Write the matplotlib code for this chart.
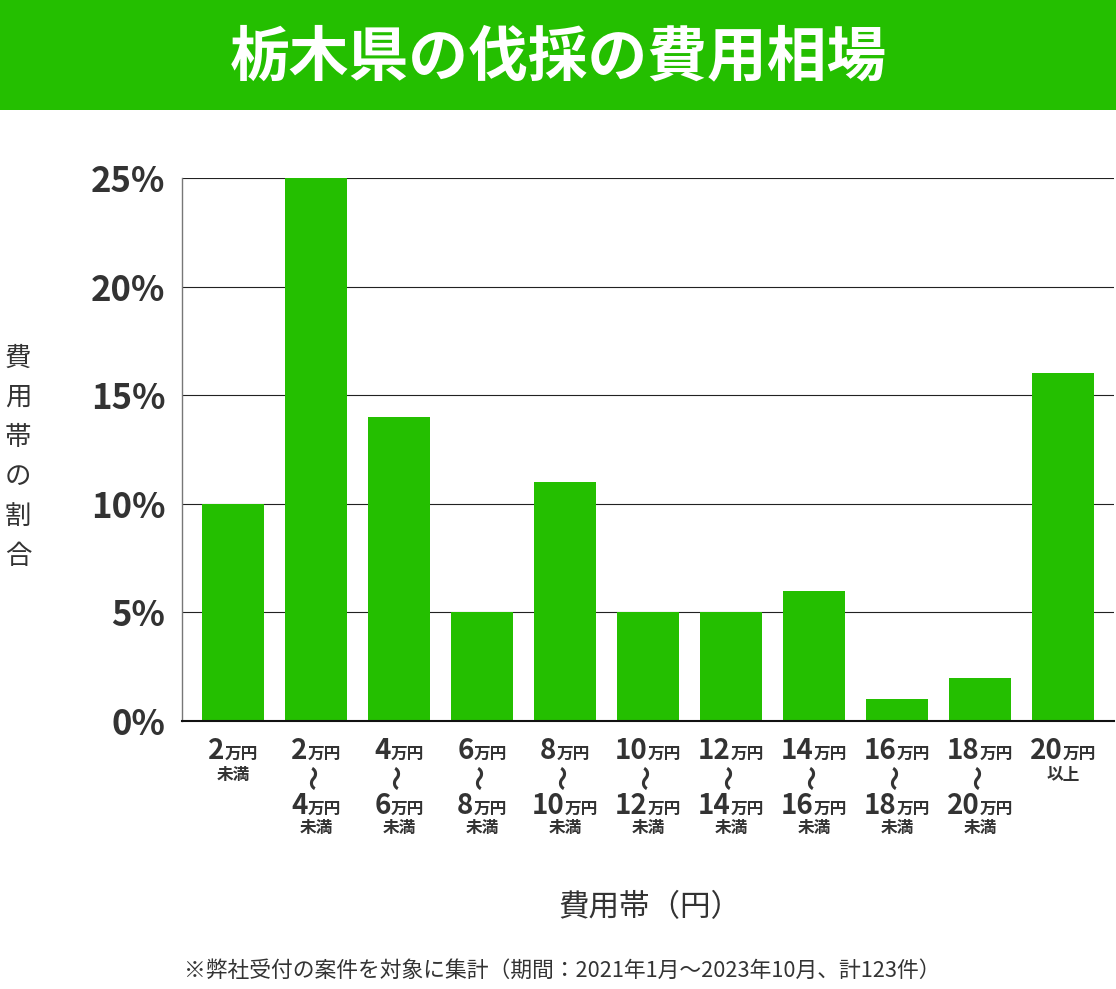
import matplotlib
matplotlib.use("Agg")
import matplotlib.pyplot as plt
from matplotlib.patches import Rectangle
from matplotlib.offsetbox import TextArea, HPacker, AnnotationBbox

plt.rcParams['font.family'] = ['Noto Sans CJK JP', 'DejaVu Sans']

title = "栃木県の伐採の費用相場"
values = [10, 25, 14, 5, 11, 5, 5, 6, 1, 2, 16]
# label parts: (from, to, suffix); from/to are numbers in 万円
label_from = ["2", "2", "4", "6", "8", "10", "12", "14", "16", "18", "20"]
label_to = [None, "4", "6", "8", "10", "12", "14", "16", "18", "20", None]
label_suffix = ["未満", "未満", "未満", "未満", "未満", "未満", "未満", "未満", "未満", "未満", "以上"]
unit = "万円"
yticks = [0, 5, 10, 15, 20, 25]
ytick_labels = ["0%", "5%", "10%", "15%", "20%", "25%"]
ylabel = "費用帯の割合"
xlabel = "費用帯（円）"
footnote = "※弊社受付の案件を対象に集計（期間：2021年1月～2023年10月、計123件）"

GREEN = "#24BF00"
DARK = "#333333"
W, H = 1116, 989
PT = 0.72  # points per pixel at dpi 100
fig = plt.figure(figsize=(W / 100, H / 100), dpi=100)

# banner
fig.patches.append(Rectangle((0, 1 - 110 / H), 1, 110 / H, transform=fig.transFigure,
                             facecolor=GREEN, edgecolor="none", zorder=0))
fig.text(0.5, 1 - 58 / H, title, ha="center", va="center", color="white",
         fontsize=43, fontweight="bold")

ax = fig.add_axes([182 / W, 1 - 721 / H, (1114 - 182) / W, (721 - 178) / H])
x = list(range(len(values)))
ax.bar(x, values, width=0.75, color=GREEN, zorder=2)
ax.set_xlim(-0.614, len(values) - 1 + 0.614)
ax.set_ylim(0, 25)
ax.set_yticks(yticks)
ax.set_yticklabels(ytick_labels, fontsize=25, fontweight="bold", color=DARK)
ax.tick_params(axis="y", length=0, pad=12)
ax.set_xticks([])
ax.grid(axis="y", color="#222222", linewidth=0.8, zorder=1)
for s in ["top", "right"]:
    ax.spines[s].set_visible(False)
ax.spines["left"].set_color("#777777")
ax.spines["left"].set_linewidth(1.0)
ax.spines["bottom"].set_color("#111111")
ax.spines["bottom"].set_linewidth(1.5)


def amount_box(num):
    return HPacker(children=[
        TextArea(num, textprops=dict(fontsize=20, fontweight="bold", color=DARK)),
        TextArea(unit, textprops=dict(fontsize=12, fontweight="bold", color=DARK)),
    ], align="baseline", pad=0, sep=0)


def put_box(box, i, ypx):
    ab = AnnotationBbox(box, (i, 0), xycoords=("data", "axes fraction"),
                        xybox=(0, -ypx * PT), boxcoords="offset points",
                        box_alignment=(0.5, 0.5), frameon=False, pad=0)
    ax.add_artist(ab)


def put_text(s, i, ypx, **kw):
    ax.annotate(s, (i, 0), xycoords=("data", "axes fraction"),
                xytext=(0, -ypx * PT), textcoords="offset points",
                ha="center", va="center", color=DARK, annotation_clip=False, **kw)


for i in range(len(values)):
    put_box(amount_box(label_from[i]), i, 30)
    if label_to[i] is None:
        put_text(label_suffix[i], i, 54, fontsize=12, fontweight="bold")
    else:
        put_text("〜", i, 57, fontsize=18, fontweight="bold", rotation=90)
        put_box(amount_box(label_to[i]), i, 85)
        put_text(label_suffix[i], i, 107, fontsize=12, fontweight="bold")

fig.text(18 / W, 1 - 457 / H, "\n".join(ylabel), ha="center", va="center",
         fontsize=19, color=DARK, linespacing=1.6)
fig.text(650 / W, 1 - 908 / H, xlabel, ha="center", va="center",
         fontsize=22, color=DARK)
fig.text(562 / W, 1 - 971 / H, footnote, ha="center", va="center",
         fontsize=15.7, color=DARK)

fig.savefig("out.png", dpi=100)
